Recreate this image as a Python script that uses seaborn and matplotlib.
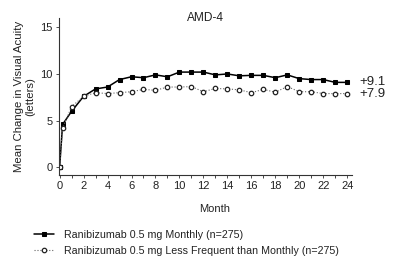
import numpy as np
import pandas as pd
import matplotlib
matplotlib.use('Agg')
import matplotlib.pyplot as plt
import seaborn as sns

months = [0, 0.25, 1, 2, 3, 4, 5, 6, 7, 8, 9, 10, 11, 12,
          13, 14, 15, 16, 17, 18, 19, 20, 21, 22, 23, 24]
monthly = [0, 4.6, 6.0, 7.6, 8.4, 8.6, 9.4, 9.7, 9.6, 9.9, 9.7, 10.2, 10.2, 10.2,
           9.9, 10.0, 9.8, 9.85, 9.85, 9.6, 9.9, 9.5, 9.4, 9.4, 9.1, 9.1]
less_freq = [0, 4.2, 6.5, 7.6, 8.0, 7.9, 8.0, 8.1, 8.35, 8.25, 8.6, 8.6, 8.65, 8.1,
             8.45, 8.4, 8.3, 8.0, 8.35, 8.05, 8.65, 8.1, 8.1, 7.9, 7.9, 7.9]
labels = ['Ranibizumab 0.5 mg Monthly (n=275)',
          'Ranibizumab 0.5 mg Less Frequent than Monthly (n=275)']
end_labels = ['+9.1', '+7.9']

sns.set_style('ticks')
plt.rcParams['font.family'] = ['Liberation Sans Narrow', 'Liberation Sans', 'DejaVu Sans']
txt = '#222222'
fs = 8.0

fig = plt.figure(figsize=(4, 2.67), dpi=100)
ax = fig.add_axes([0.1475, 0.345, 0.7325, 0.588])

sns.lineplot(x=months, y=monthly, ax=ax, color='black', lw=1.1,
             marker='s', markersize=4.6, markeredgecolor='black',
             markerfacecolor='black', label=labels[0])
sns.lineplot(x=months, y=less_freq, ax=ax, color='#666666', lw=0.8,
             linestyle=':', marker='o', markersize=4.6, markeredgecolor='#222222',
             markerfacecolor='white', markeredgewidth=0.9, label=labels[1])

ax.set_xlim(-0.05, 24.4)
ax.set_ylim(-0.8, 16)
ax.set_xticks(range(0, 25, 2))
ax.set_xticks(range(0, 25), minor=True)
ax.set_yticks([0, 5, 10, 15])
ax.tick_params(axis='both', labelsize=fs, length=2.5, width=0.6, pad=2, colors='#333333',
               labelcolor=txt)
ax.tick_params(axis='x', which='minor', length=2.5, width=0.6)
for s in ['left', 'bottom']:
    ax.spines[s].set_linewidth(0.8)
    ax.spines[s].set_color('#333333')
sns.despine(ax=ax)

ax.text(0.5, 1.0, 'AMD-4', transform=ax.transAxes, ha='center', va='center',
        fontsize=8.6, color=txt)
ax.set_xlabel('Month', fontsize=fs, color=txt)
ax.xaxis.set_label_coords(0.53, -0.185)
ax.set_ylabel('Mean Change in Visual Acuity\n(letters)', fontsize=8.2,
              color=txt, labelpad=4, linespacing=1.05)

ax.text(25.0, monthly[-1], end_labels[0], fontsize=9.5, va='center', color=txt)
ax.text(25.0, less_freq[-1], end_labels[1], fontsize=9.5, va='center', color=txt)

ax.get_legend().remove()
h, l = ax.get_legend_handles_labels()
for hd in h:
    hd.set_markersize(3.2)
fig.legend(h, l, loc='upper left', bbox_to_anchor=(0.085, 0.138), frameon=False,
           fontsize=7.7, handlelength=1.9, handletextpad=0.9, labelspacing=0.55,
           borderaxespad=0, borderpad=0, labelcolor=txt)

fig.savefig('out.png', dpi=100)
